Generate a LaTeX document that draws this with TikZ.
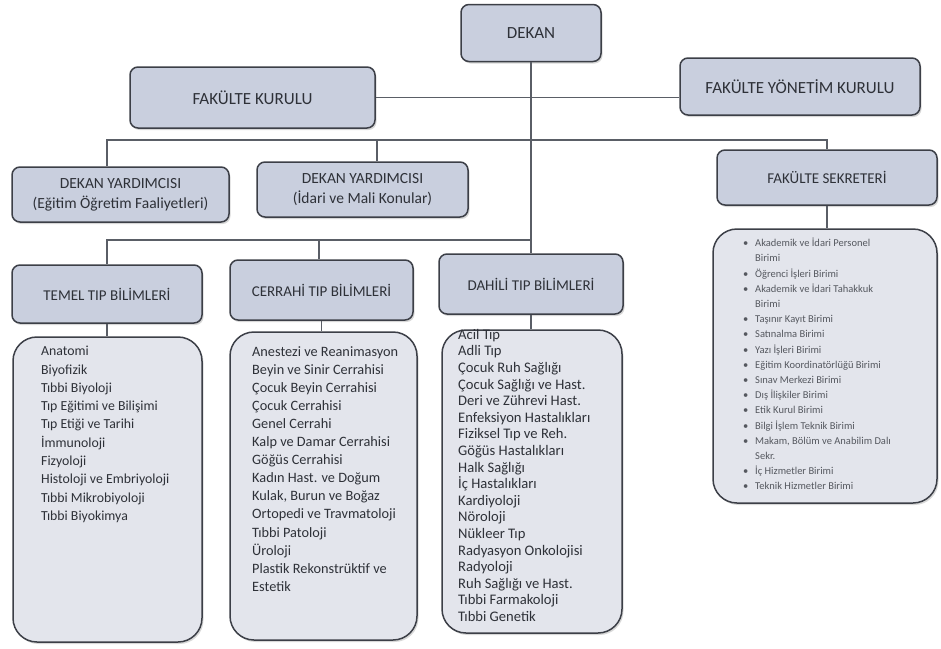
\documentclass[tikz,border=0pt]{standalone}
\usepackage{fontspec}
\setmainfont{Carlito}
\usetikzlibrary{shadows}
\definecolor{hdrfill}{HTML}{C9CFDE}
\definecolor{lstfill}{HTML}{E3E5EC}
\definecolor{bord}{HTML}{3C3F47}
\definecolor{txt}{HTML}{2E3138}
\definecolor{ftxt}{HTML}{55585F}
\definecolor{conn}{HTML}{5A5E66}
\newcommand{\bul}{\makebox[12pt][l]{•}}
\newcommand{\cont}{\hspace*{12pt}}
\begin{document}
\begin{tikzpicture}[x=1pt,y=-1pt,
  hdr/.style={draw=bord, line width=1.5pt, fill=hdrfill, rounded corners=8pt,
    align=center, text=txt, inner sep=0pt,
    drop shadow={shadow xshift=1.5pt, shadow yshift=-2pt, opacity=0.3}},
  lst/.style={draw=bord, line width=1.5pt, fill=lstfill, rounded corners=24pt,
    inner sep=0pt,
    drop shadow={shadow xshift=1.5pt, shadow yshift=-2pt, opacity=0.3}},
  conn/.style={draw=conn, line width=1.4pt},
  items/.style={anchor=north west, align=left, inner sep=0pt, text=txt},
  big/.style={font=\fontsize{17}{20}\selectfont},
  mid/.style={font=\fontsize{15.5}{20}\selectfont},
  sml/.style={font=\fontsize{15}{18}\selectfont}
]
\useasboundingbox[fill=white] (0,0) rectangle (941,648);

% header boxes
\node[hdr, big, minimum width=140pt, minimum height=57pt] (dekan) at (531,33) {DEKAN};
\node[hdr, big, minimum width=245pt, minimum height=61pt] (fk) at (252.5,97.5) {FAKÜLTE KURULU};
\node[hdr, big, minimum width=240pt, minimum height=57pt] (fyk) at (800,86.5) {FAKÜLTE YÖNETİM KURULU};
\node[hdr, mid, minimum width=217pt, minimum height=55pt] (dy1) at (120.5,194.5) {DEKAN YARDIMCISI\\(Eğitim Öğretim Faaliyetleri)};
\node[hdr, mid, minimum width=211pt, minimum height=55pt] (dy2) at (362.5,189.5) {DEKAN YARDIMCISI\\(İdari ve Mali Konular)};
\node[hdr, sml, minimum width=220pt, minimum height=55pt] (fs) at (827,177.5) {FAKÜLTE SEKRETERİ};
\node[hdr, sml, minimum width=190pt, minimum height=58pt] (temel) at (107,294) {TEMEL TIP BİLİMLERİ};
\node[hdr, sml, minimum width=183pt, minimum height=60pt] (cerrahi) at (321.5,290) {CERRAHİ TIP BİLİMLERİ};
\node[hdr, sml, minimum width=184pt, minimum height=60pt] (dahili) at (531,284) {DAHİLİ TIP BİLİMLERİ};

% list boxes
\node[lst, minimum width=189pt, minimum height=305pt] (temelL) at (107.5,489.5) {};
\node[lst, minimum width=187pt, minimum height=308pt] (cerrahiL) at (323.5,486) {};
\node[lst, minimum width=180pt, minimum height=303pt] (dahiliL) at (532,481.5) {};
\node[lst, minimum width=224pt, minimum height=274pt] (fsL) at (825,366) {};

% list texts
\node[items, font=\fontsize{13.8}{18.3}\selectfont] (temelT) at (41,346) {Anatomi\\Biyofizik\\Tıbbi Biyoloji\\Tıp Eğitimi ve Bilişimi\\Tıp Etiği ve Tarihi\\İmmunoloji\\Fizyoloji\\Histoloji ve Embriyoloji\\Tıbbi Mikrobiyoloji\\Tıbbi Biyokimya};
\node[items, font=\fontsize{14.3}{18.1}\selectfont] (cerrahiT) at (252,346) {Anestezi ve Reanimasyon\\Beyin ve Sinir Cerrahisi\\Çocuk Beyin Cerrahisi\\Çocuk Cerrahisi\\Genel Cerrahi\\Kalp ve Damar Cerrahisi\\Göğüs Cerrahisi\\Kadın Hast. ve Doğum\\Kulak, Burun ve Boğaz\\Ortopedi ve Travmatoloji\\Tıbbi Patoloji\\Üroloji\\Plastik Rekonstrüktif ve\\Estetik};
\node[items, font=\fontsize{14.6}{16.6}\selectfont] (dahiliT) at (458,329) {Acil Tıp\\Adli Tıp\\Çocuk Ruh Sağlığı\\Çocuk Sağlığı ve Hast.\\Deri ve Zührevi Hast.\\Enfeksiyon Hastalıkları\\Fiziksel Tıp ve Reh.\\Göğüs Hastalıkları\\Halk Sağlığı\\İç Hastalıkları\\Kardiyoloji\\Nöroloji\\Nükleer Tıp\\Radyasyon Onkolojisi\\Radyoloji\\Ruh Sağlığı ve Hast.\\Tıbbi Farmakoloji\\Tıbbi Genetik};
\node[items, text=ftxt, font=\fontsize{10.5}{15.2}\selectfont] (fsT) at (743,238) {\bul Akademik ve İdari Personel\\\cont Birimi\\\bul Öğrenci İşleri Birimi\\\bul Akademik ve İdari Tahakkuk\\\cont Birimi\\\bul Taşınır Kayıt Birimi\\\bul Satınalma Birimi\\\bul Yazı İşleri Birimi\\\bul Eğitim Koordinatörlüğü Birimi\\\bul Sınav Merkezi Birimi\\\bul Dış İlişkiler Birimi\\\bul Etik Kurul Birimi\\\bul Bilgi İşlem Teknik Birimi\\\bul Makam, Bölüm ve Anabilim Dalı\\\cont Sekr.\\\bul İç Hizmetler Birimi\\\bul Teknik Hizmetler Birimi};

% connectors
\coordinate (h1L) at (107,140);
\coordinate (h1m) at (377,140);
\coordinate (h2L) at (107,240);
\coordinate (h2m) at (319,240);
\draw[conn] (fk.east) -- (fk.east -| fyk.west);
\draw[conn] (dekan.south) -- (dahili.north);
\draw[conn] (dy1.north -| h1L) -- (h1L) -- (h1L -| fs.north) -- (fs.north);
\draw[conn] (h1m) -- (h1m |- dy2.north);
\draw[conn] (temel.north) -- (h2L) -- (h2L -| dahili.north);
\draw[conn] (h2m) -- (h2m |- cerrahi.north);
\draw[conn] (temel.south) -- (temel.south |- temelL.north);
\draw[conn] (cerrahi.south) -- (cerrahi.south |- cerrahiL.north);
\draw[conn] (dahili.south) -- (dahili.south |- dahiliL.north);
\draw[conn] (fs.south) -- (fs.south |- fsL.north);
\end{tikzpicture}
\end{document}
